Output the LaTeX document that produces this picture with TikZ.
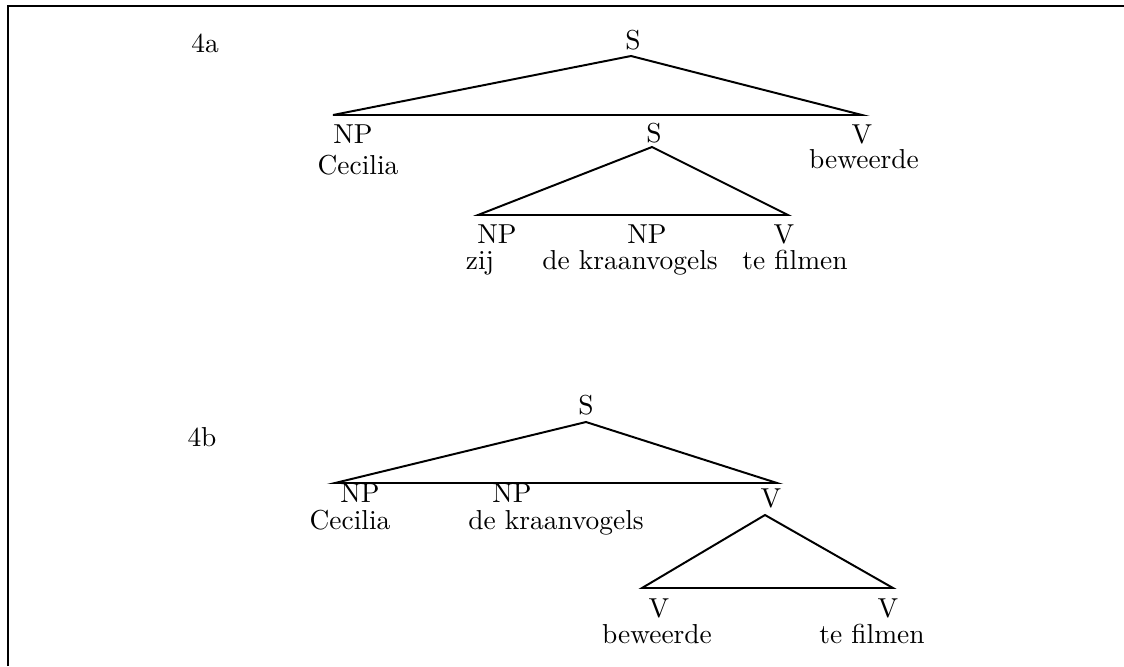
\documentclass[tikz,border=0pt]{standalone}
\usepackage{fontspec}
\setmainfont{lmroman10-regular.otf}
\usepackage{tikz}
\tikzset{
    cat/.style={
        anchor=base,
        inner sep=0pt,
        font=\fontsize{19.5}{23}\selectfont
    },
    tri/.style={
        line width=1.4pt,
        line join=miter
    },
    frame/.style={
        line width=2pt
    }
}

\begin{document}
\begin{tikzpicture}[
    x=0.025cm,
    y=-0.025cm
]
    \useasboundingbox (0,0) rectangle (1124,666);

    % Marco
    \coordinate (fa) at (8,666);
    \coordinate (fb) at (8,6);
    \coordinate (fc) at (1124,6);
    \draw[frame] (fa) -- (fb) -- (fc);

    % Arbol 4a
    \node[cat] (n4a)  at (205,52)  {4a};
    \node[cat] (sa)   at (633,49)  {S};
    \coordinate (ta)  at (631,56);
    \coordinate (tal) at (333,115);
    \coordinate (tar) at (862,115);

    \node[cat] (npa)  at (353,143) {NP};
    \node[cat] (ceca) at (358,174) {Cecilia};
    \node[cat] (sb)   at (654,142) {S};
    \node[cat] (va)   at (862,143) {V};
    \node[cat] (bewa) at (864,168) {beweerde};

    \coordinate (tb)  at (652,147);
    \coordinate (tbl) at (478,215);
    \coordinate (tbr) at (788,215);

    \node[cat] (npb)  at (497,243) {NP};
    \node[cat] (zij)  at (480,269) {zij};
    \node[cat] (npc)  at (647,243) {NP};
    \node[cat] (kra)  at (630,269) {de kraanvogels};
    \node[cat] (vb)   at (784,243) {V};
    \node[cat] (fila) at (795,269) {te filmen};

    \draw[tri] (ta) -- (tal) -- (tar) -- cycle;
    \draw[tri] (tb) -- (tbl) -- (tbr) -- cycle;

    % Arbol 4b
    \node[cat] (n4b)  at (202,446) {4b};
    \node[cat] (sc)   at (586,414) {S};
    \coordinate (tc)  at (586,422);
    \coordinate (tcl) at (335,483);
    \coordinate (tcr) at (777,483);

    \node[cat] (npd)  at (360,502) {NP};
    \node[cat] (cecb) at (350,529) {Cecilia};
    \node[cat] (npe)  at (512,502) {NP};
    \node[cat] (krb)  at (556,529) {de kraanvogels};
    \node[cat] (vc)   at (771,507) {V};

    \coordinate (td)  at (765,515);
    \coordinate (tdl) at (642,588);
    \coordinate (tdr) at (893,588);

    \node[cat] (vd)   at (659,617) {V};
    \node[cat] (bewb) at (657,643) {beweerde};
    \node[cat] (ve)   at (888,617) {V};
    \node[cat] (filb) at (872,643) {te filmen};

    \draw[tri] (tc) -- (tcl) -- (tcr) -- cycle;
    \draw[tri] (td) -- (tdl) -- (tdr) -- cycle;

\end{tikzpicture}
\end{document}
